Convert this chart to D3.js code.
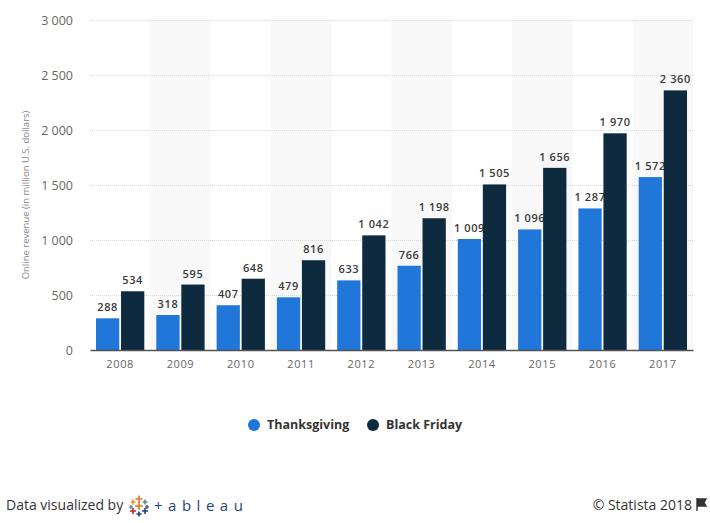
<!DOCTYPE html>
<html>
<head>
<meta charset="utf-8">
<script src="https://cdn.jsdelivr.net/npm/d3@7"></script>
<style>
  body { margin: 0; background: #fff; }
  svg { display: block; font-family: "Open Sans", sans-serif; }
</style>
</head>
<body>
<svg id="chart" width="710" height="523"></svg>
<script>
const years = ['2008', '2009', '2010', '2011', '2012', '2013', '2014', '2015', '2016', '2017'];
const thanksgiving = [288, 318, 407, 479, 633, 766, 1009, 1096, 1287, 1572];
const blackFriday = [534, 595, 648, 816, 1042, 1198, 1505, 1656, 1970, 2360];
const seriesNames = ['Thanksgiving', 'Black Friday'];
const seriesColors = ['#2176d9', '#0d2a3f'];
const yTicks = [0, 500, 1000, 1500, 2000, 2500, 3000];

const svg = d3.select('#chart');
const margin = { left: 90, right: 17, top: 20, bottom: 173 };
const width = 710 - margin.left - margin.right;
const height = 523 - margin.top - margin.bottom;

const fmtSpace = v => d3.format(',')(v).replace(/,/g, ' ');

const x = d3.scaleBand().domain(years).range([0, width]);
const bw = x.bandwidth();
const x1 = d3.scaleBand().domain(seriesNames).range([6, bw - 6]).paddingInner(0.07);
const y = d3.scaleLinear().domain([0, 3000]).range([height, 0]);

const g = svg.append('g').attr('transform', `translate(${margin.left},${margin.top})`);

// alternate band shading
g.selectAll('.band')
  .data(years.filter((d, i) => i % 2 === 1))
  .join('rect')
  .attr('x', d => x(d))
  .attr('y', 0)
  .attr('width', bw)
  .attr('height', height)
  .attr('fill', '#f8f8f8');

// gridlines
g.selectAll('.grid')
  .data(yTicks.filter(d => d > 0))
  .join('line')
  .attr('x1', 0).attr('x2', width)
  .attr('y1', d => y(d) + 0.5).attr('y2', d => y(d) + 0.5)
  .attr('stroke', '#d8d8d8')
  .attr('stroke-dasharray', '1,1');

// y axis labels
const yAxis = d3.axisLeft(y).tickValues(yTicks).tickSize(0).tickPadding(17).tickFormat(fmtSpace);
g.append('g').call(yAxis)
  .call(s => s.select('.domain').remove())
  .selectAll('text')
  .attr('fill', '#666')
  .attr('font-size', 12.5)
  .attr('font-family', '"Open Sans", sans-serif');

// y axis title
svg.append('text')
  .attr('transform', `translate(29,${margin.top + height / 2 + 10}) rotate(-90)`)
  .attr('text-anchor', 'middle')
  .attr('fill', '#888')
  .attr('font-size', 9.5)
  .text('Online revenue (in million U.S. dollars)');

// bars
const groups = g.selectAll('.year')
  .data(years)
  .join('g')
  .attr('transform', d => `translate(${x(d)},0)`);

const seriesData = [thanksgiving, blackFriday];
seriesNames.forEach((name, si) => {
  groups.append('rect')
    .attr('x', x1(name))
    .attr('width', x1.bandwidth())
    .attr('y', (d, i) => y(seriesData[si][i]))
    .attr('height', (d, i) => height - y(seriesData[si][i]))
    .attr('fill', seriesColors[si]);

  groups.append('text')
    .attr('x', x1(name) + x1.bandwidth() / 2)
    .attr('y', (d, i) => y(seriesData[si][i]) - 7)
    .attr('text-anchor', 'middle')
    .attr('fill', '#3a3a3a')
    .attr('font-size', 11)
    .attr('font-weight', 600)
    .attr('letter-spacing', 0.6)
    .text((d, i) => fmtSpace(seriesData[si][i]));
});

// x axis
const xAxis = d3.axisBottom(x).tickSize(0).tickPadding(10);
g.append('g')
  .attr('transform', `translate(0,${height})`)
  .call(xAxis)
  .call(s => s.select('.domain').attr('stroke', '#555').attr('stroke-width', 1.5))
  .selectAll('text')
  .attr('fill', '#666')
  .attr('font-size', 11)
  .attr('letter-spacing', 0.6)
  .attr('font-family', '"Open Sans", sans-serif');

// legend
const legend = svg.append('g').attr('transform', 'translate(254,425)');
const legendX = [0, 119];
seriesNames.forEach((name, i) => {
  const lg = legend.append('g').attr('transform', `translate(${legendX[i]},0)`);
  lg.append('circle').attr('r', 6).attr('fill', seriesColors[i]);
  lg.append('text')
    .attr('x', 13)
    .attr('dy', '0.35em')
    .attr('fill', '#333')
    .attr('font-size', 12.5)
    .attr('font-weight', 700)
    .text(name);
});

// footer
svg.append('text')
  .attr('x', 6).attr('y', 510)
  .attr('fill', '#333')
  .attr('font-size', 14)
  .text('Data visualized by');

// tableau mark
const logo = svg.append('g').attr('transform', 'translate(139,506)');
const crosses = [
  [0, -7, '#e8762c', 3.5], [-6, -4, '#eb912b', 2.5], [6, -4, '#5b879b', 2.5],
  [0, 0, '#e8762c', 4], [-8, 1, '#7099a6', 2], [8, 1, '#5b6591', 2],
  [-6, 5, '#c72035', 3], [6, 5, '#1f447e', 3], [0, 8, '#1f447e', 2.5]
];
crosses.forEach(([cx, cy, col, r]) => {
  logo.append('path')
    .attr('d', `M${cx - r},${cy}H${cx + r}M${cx},${cy - r}V${cy + r}`)
    .attr('stroke', col)
    .attr('stroke-width', 1.6);
});
svg.append('text')
  .attr('x', 154).attr('y', 511)
  .attr('fill', '#1f447e')
  .attr('font-size', 15)
  .attr('letter-spacing', 5.5)
  .text('+ableau');

svg.append('text')
  .attr('x', 692).attr('y', 510)
  .attr('text-anchor', 'end')
  .attr('fill', '#333')
  .attr('font-size', 14)
  .text('© Statista 2018');
svg.append('path')
  .attr('d', 'M697,498V511M697,499H706L704,502.5L706,506H697')
  .attr('fill', '#333')
  .attr('stroke', '#333')
  .attr('stroke-width', 1.4);
</script>
</body>
</html>
